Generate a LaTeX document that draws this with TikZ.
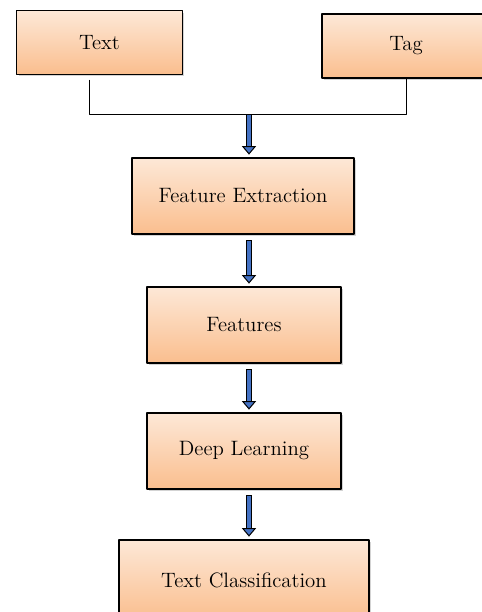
\documentclass[tikz,border=0pt]{standalone}
\usepackage{tikz}
\usetikzlibrary{arrows.meta}
\usetikzlibrary{shadows}

\definecolor{boxtop}{RGB}{253,232,215}
\definecolor{boxbot}{RGB}{250,190,142}
\definecolor{arrblue}{RGB}{68,114,196}

\begin{document}
\begin{tikzpicture}[line cap=round,line join=round,x=0.025cm,y=-0.025cm,
    blk/.style={draw, line width=0.8pt, top color=boxtop, bottom color=boxbot,
        drop shadow={opacity=0.35, shadow xshift=1.5pt, shadow yshift=-1.5pt},
        font=\fontsize{14.8}{17}\selectfont, inner sep=0pt},
    arr/.style={line width=4.6pt, line cap=butt, black, shorten >=2pt,
        -{Triangle[length=6pt, width=10pt, line width=0.7pt, fill=arrblue]},
        postaction={draw=arrblue, line width=2.8pt, -, shorten >=8pt, shorten <=0.7pt}}]
                    \useasboundingbox (0,0) rectangle (481,612);

                    % inputs
                    \node[blk, minimum width=4.13cm, minimum height=1.58cm] (txt) at (99.5,42.5) {Text};
                    \node[blk, minimum width=4.2cm, minimum height=1.6cm] (tag) at (406,46) {Tag};

                    % pipeline
                    \node[blk, minimum width=5.55cm, minimum height=1.9cm] (fe) at (243,196) {Feature Extraction};
                    \node[blk, minimum width=4.85cm, minimum height=1.9cm] (feat) at (244,325) {Features};
                    \node[blk, minimum width=4.85cm, minimum height=1.9cm] (dl) at (244,451) {Deep Learning};
                    \node[blk, minimum width=6.25cm, minimum height=2cm] (tc) at (244,580) {Text Classification};

                    \coordinate (jl) at (89,114);
                    \coordinate (jr) at (406,114);
                    \coordinate (mid) at (249,114);

                    \draw [line width=0.7pt] ([yshift=-4pt]txt.south -| jl) -- (jl) -- (jr) -- (tag.south -| jr);

                    \draw [arr] (mid) -- (fe.north -| mid);
                    \draw [arr] ([yshift=-4pt]fe.south -| mid) -- (feat.north -| mid);
                    \draw [arr] ([yshift=-4pt]feat.south -| mid) -- (dl.north -| mid);
                    \draw [arr] ([yshift=-4pt]dl.south -| mid) -- (tc.north -| mid);
                \end{tikzpicture}
\end{document}
